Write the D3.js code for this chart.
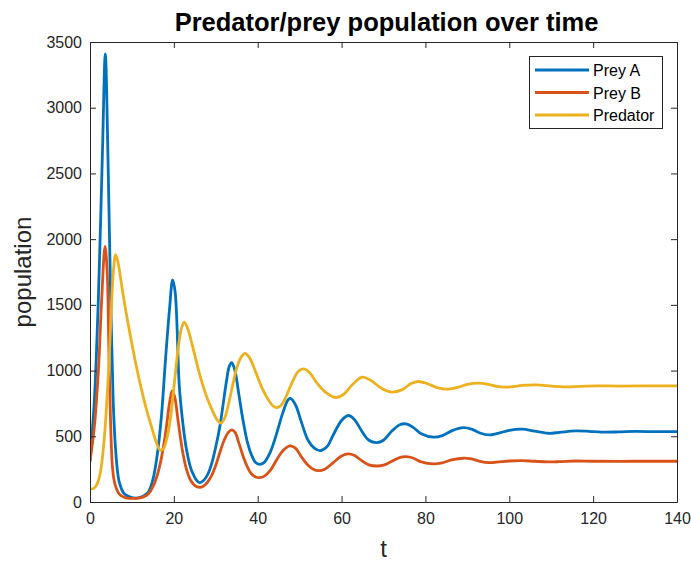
<!DOCTYPE html>
<html>
<head>
<meta charset="utf-8">
<script src="https://cdn.jsdelivr.net/npm/d3@7"></script>
<style>
  html, body { margin: 0; padding: 0; background: #fff; }
  svg { display: block; font-family: "Liberation Sans", Arial, Helvetica, sans-serif; }
</style>
</head>
<body>
<svg id="chart" width="691" height="563"></svg>
<script>
// Simulated populations, sampled as [t, population]
const preyA = [
  [0,312],[1,750],[1.5,1100],[2,1550],[2.5,2100],[3,2700],[3.65,3410],[4.3,2600],[4.9,1600],
  [5.5,800],[6,450],[6.5,250],[7,150],[8,70],[9,45],[10,33],[11,30],[12,36],[13,50],[14,80],
  [15,170],[16,350],[17,640],[18,1080],[19,1480],[19.7,1690],[20.3,1600],[21.3,880],[22,640],
  [22.9,420],[24,260],[24.5,220],[25.3,170],[26.1,147],[27,162],[28,205],[29,290],[30,420],
  [31,580],[32,800],[32.6,930],[33.2,1030],[33.8,1061],[34.5,1010],[35.5,820],[36.5,620],
  [37.5,460],[38.5,360],[39.5,300],[40.4,287],[41.5,300],[43,380],[44.5,520],[46,680],
  [47.3,780],[47.9,787],[49,740],[50.5,600],[52,470],[53.5,410],[54.9,391],[56.5,420],[58,510],
  [60,620],[61.6,658],[63,630],[65,530],[66.5,470],[68.4,452],[70,470],[72,540],[74,590],
  [75.4,594],[77,570],[79,520],[82,493],[84,505],[86.5,545],[89,566],[91,555],[93,525],
  [95.2,510],[97,520],[100,545],[103,554],[106,540],[109.3,523],[112,530],[115.7,541],
  [119,538],[122,532],[126,533],[130,537],[135,535],[140,535]
];
const preyB = [
  [0,312],[1,560],[2,1000],[2.8,1550],[3.58,1945],[4.1,1750],[4.6,1010],[5.4,250],[6,130],
  [7,60],[8,38],[9,30],[10,28],[11,28],[12,32],[13,42],[14,65],[15,115],[16,200],[17,330],
  [18,520],[19,760],[19.6,845],[20.2,800],[21,620],[22,400],[23,250],[24,165],[25,125],
  [26.2,112],[27,120],[28,150],[29,200],[30,280],[31,380],[32,470],[33,530],[33.8,549],
  [34.6,530],[35.5,450],[36.5,350],[37.5,270],[38.5,215],[39.5,190],[40.4,185],[41.5,195],
  [43,240],[44.5,320],[46,390],[47.7,427],[49,410],[50.5,340],[52,280],[53.5,245],[54.5,239],
  [56,250],[58,300],[60,350],[61.6,366],[63,355],[65,310],[66.5,283],[68.4,274],[70,280],
  [72,310],[74,340],[75.4,345],[77,335],[79,305],[82,290],[84,298],[86.5,322],[89,333],
  [91,328],[93,310],[95.2,300],[97,303],[100,312],[103,315],[106,310],[109.3,305],[112,307],
  [115.7,312],[120,310],[130,310],[140,310]
];
const predator = [
  [0,97],[1,105],[1.8,145],[2.5,230],[3,350],[3.5,520],[4,760],[4.45,1010],[5,1400],
  [5.5,1720],[6.1,1882],[6.7,1820],[7.4,1680],[8.4,1480],[9.9,1220],[11,1040],[12.3,853],
  [13.5,700],[14.7,570],[15.7,465],[16.7,395],[17.5,405],[18.3,480],[19.2,640],[20.1,900],
  [21,1160],[21.8,1320],[22.5,1369],[23.3,1320],[24.5,1180],[26,990],[27.5,830],[28.5,745],
  [29.5,675],[30.4,622],[31.2,600],[32,630],[33,740],[34,885],[35,1020],[36,1100],[37,1130],
  [38,1100],[39.5,990],[41,870],[42.5,780],[43.7,730],[44.7,719],[45.7,740],[47,820],
  [48.5,930],[49.7,995],[51,1013],[52.5,980],[54,910],[56,840],[58.6,795],[60.5,820],
  [62.5,890],[64.9,950],[67,925],[69.5,865],[72,836],[74.5,855],[76.5,900],[78.3,917],
  [80.5,900],[83,868],[85.5,859],[88,875],[90,895],[92.6,904],[95,895],[97,880],[99,874],
  [101,878],[103,887],[106.5,891],[110,882],[113,876],[117,880],[121,884],[126,882],
  [132,883],[140,884]
];

const seriesNames = ["Prey A", "Prey B", "Predator"];
const seriesColors = ["#0072BD", "#D95319", "#EDB120"];
const seriesData = [preyA, preyB, predator];

const xTicks = [0, 20, 40, 60, 80, 100, 120, 140];
const yTicks = [0, 500, 1000, 1500, 2000, 2500, 3000, 3500];

const titleText = "Predator/prey population over time";
const xLabel = "t";
const yLabel = "population";

// Plot box in page pixels
const box = { left: 90, right: 677, top: 42, bottom: 502 };
const axisColor = "#262626";
const tickLen = 6;

const svg = d3.select("#chart");

const x = d3.scaleLinear().domain([0, 140]).range([box.left, box.right]);
const y = d3.scaleLinear().domain([0, 3500]).range([box.bottom, box.top]);

// Clip region for the data lines
svg.append("clipPath").attr("id", "plot-clip")
  .append("rect").attr("x", box.left).attr("y", box.top)
  .attr("width", box.right - box.left).attr("height", box.bottom - box.top);

// Lines
const line = d3.line()
  .x(d => x(d[0]))
  .y(d => y(d[1]))
  .curve(d3.curveCatmullRom.alpha(0.5));

const plot = svg.append("g").attr("clip-path", "url(#plot-clip)");
seriesData.forEach((s, i) => {
  plot.append("path")
    .datum(s)
    .attr("d", line)
    .attr("fill", "none")
    .attr("stroke", seriesColors[i])
    .attr("stroke-width", 2.8)
    .attr("stroke-linejoin", "round")
    .attr("stroke-linecap", "round");
});

// Axes: bottom/left with labels, top/right mirrored ticks (boxed plot)
function styleAxis(g) {
  g.select(".domain").attr("stroke", axisColor).attr("stroke-width", 1);
  g.selectAll(".tick line").attr("stroke", axisColor).attr("stroke-width", 1);
  g.selectAll(".tick text")
    .attr("fill", axisColor)
    .style("font-size", "16px")
    .style("font-family", "'Liberation Sans', Arial, sans-serif");
}

const fmt = d3.format("d");

svg.append("g")
  .attr("transform", `translate(0,${box.bottom})`)
  .call(d3.axisBottom(x).tickValues(xTicks).tickFormat(fmt).tickSizeInner(-tickLen).tickSizeOuter(0).tickPadding(11))
  .call(styleAxis);

svg.append("g")
  .attr("transform", `translate(${box.left},0)`)
  .call(d3.axisLeft(y).tickValues(yTicks).tickFormat(fmt).tickSizeInner(-tickLen).tickSizeOuter(0).tickPadding(8))
  .call(styleAxis);

svg.append("g")
  .attr("transform", `translate(0,${box.top})`)
  .call(d3.axisTop(x).tickValues(xTicks).tickSizeInner(-tickLen).tickSizeOuter(0).tickFormat(""))
  .call(styleAxis);

svg.append("g")
  .attr("transform", `translate(${box.right},0)`)
  .call(d3.axisRight(y).tickValues(yTicks).tickSizeInner(-tickLen).tickSizeOuter(0).tickFormat(""))
  .call(styleAxis);

// Title and axis labels
svg.append("text")
  .attr("x", (box.left + box.right) / 2 + 3).attr("y", 31)
  .attr("text-anchor", "middle")
  .attr("fill", "#000")
  .style("font-size", "25.5px").style("font-weight", "bold")
  .text(titleText);

svg.append("text")
  .attr("x", (box.left + box.right) / 2).attr("y", 557)
  .attr("text-anchor", "middle")
  .attr("fill", axisColor)
  .style("font-size", "24px")
  .text(xLabel);

svg.append("text")
  .attr("transform", `translate(31,${(box.top + box.bottom) / 2}) rotate(-90)`)
  .attr("text-anchor", "middle")
  .attr("fill", axisColor)
  .style("font-size", "24px")
  .text(yLabel);

// Legend
const lg = svg.append("g").attr("transform", "translate(529,56)");
lg.append("rect")
  .attr("x", 0.5).attr("y", 0.5).attr("width", 133).attr("height", 72)
  .attr("fill", "#fff").attr("stroke", axisColor).attr("stroke-width", 1);
seriesNames.forEach((name, i) => {
  const cy = 14 + i * 22.5;
  lg.append("line")
    .attr("x1", 6).attr("x2", 60).attr("y1", cy).attr("y2", cy)
    .attr("stroke", seriesColors[i]).attr("stroke-width", 2.8);
  lg.append("text")
    .attr("x", 64).attr("y", cy + 6)
    .attr("fill", "#000")
    .style("font-size", "16px")
    .text(name);
});
</script>
</body>
</html>
